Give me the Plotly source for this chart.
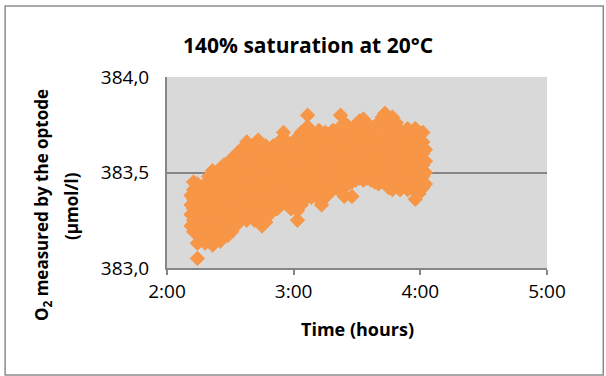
import plotly.graph_objects as go

# Readings grouped by time column (hours) and O2 values (µmol/l)
time_cols = [2.19, 2.21, 2.24, 2.27, 2.30, 2.33, 2.36, 2.39, 2.42, 2.45, 2.48, 2.51, 2.54, 2.57,
             2.60, 2.63, 2.66, 2.69, 2.72, 2.75, 2.78, 2.81, 2.84, 2.87, 2.90, 2.92, 2.95, 2.98,
             3.01, 3.03, 3.06, 3.09, 3.11, 3.14, 3.17, 3.20, 3.22, 3.25, 3.28, 3.31, 3.34, 3.37,
             3.40, 3.43, 3.46, 3.49, 3.52, 3.55, 3.58, 3.61, 3.64, 3.67, 3.70, 3.72, 3.75, 3.78,
             3.81, 3.84, 3.87, 3.90, 3.93, 3.96, 3.99, 4.02, 4.04]

o2_cols = [
    [383.22, 383.28, 383.33, 383.38],
    [383.19, 383.25, 383.31, 383.36, 383.41, 383.45],
    [383.05, 383.13, 383.18, 383.23, 383.29, 383.34, 383.40, 383.44],
    [383.15, 383.20, 383.26, 383.31, 383.37, 383.42],
    [383.13, 383.18, 383.24, 383.29, 383.35, 383.40, 383.44],
    [383.15, 383.21, 383.27, 383.32, 383.38, 383.43, 383.48],
    [383.12, 383.17, 383.23, 383.30, 383.35, 383.41, 383.46, 383.51],
    [383.15, 383.20, 383.26, 383.32, 383.37, 383.43, 383.49],
    [383.14, 383.19, 383.25, 383.31, 383.36, 383.42, 383.47, 383.52],
    [383.18, 383.24, 383.29, 383.35, 383.40, 383.46, 383.51, 383.54],
    [383.17, 383.22, 383.28, 383.33, 383.39, 383.44, 383.50, 383.55],
    [383.19, 383.25, 383.31, 383.36, 383.42, 383.47, 383.53, 383.57],
    [383.22, 383.27, 383.33, 383.38, 383.44, 383.49, 383.55, 383.59],
    [383.24, 383.30, 383.35, 383.41, 383.46, 383.52, 383.57, 383.61],
    [383.26, 383.31, 383.37, 383.42, 383.48, 383.53, 383.59, 383.63],
    [383.25, 383.31, 383.36, 383.42, 383.47, 383.53, 383.58, 383.66],
    [383.27, 383.33, 383.38, 383.44, 383.49, 383.55, 383.60, 383.64],
    [383.25, 383.30, 383.36, 383.41, 383.47, 383.52, 383.58, 383.63],
    [383.27, 383.33, 383.38, 383.44, 383.50, 383.55, 383.61, 383.67],
    [383.22, 383.28, 383.34, 383.40, 383.45, 383.51, 383.57, 383.62],
    [383.24, 383.30, 383.36, 383.42, 383.47, 383.53, 383.58, 383.64],
    [383.28, 383.34, 383.39, 383.45, 383.50, 383.56, 383.61],
    [383.31, 383.36, 383.42, 383.47, 383.53, 383.58, 383.64],
    [383.31, 383.37, 383.43, 383.48, 383.54, 383.60, 383.65],
    [383.33, 383.39, 383.44, 383.50, 383.56, 383.61, 383.67],
    [383.35, 383.41, 383.47, 383.52, 383.58, 383.64, 383.71],
    [383.33, 383.38, 383.44, 383.49, 383.55, 383.60, 383.66],
    [383.31, 383.36, 383.42, 383.48, 383.53, 383.59, 383.65],
    [383.32, 383.38, 383.43, 383.49, 383.55, 383.61, 383.67],
    [383.25, 383.30, 383.36, 383.45, 383.52, 383.58, 383.64],
    [383.33, 383.39, 383.45, 383.51, 383.57, 383.63, 383.71],
    [383.36, 383.42, 383.48, 383.54, 383.60, 383.66, 383.71],
    [383.38, 383.44, 383.50, 383.56, 383.62, 383.68, 383.74, 383.80],
    [383.37, 383.43, 383.49, 383.55, 383.61, 383.67, 383.71],
    [383.39, 383.45, 383.51, 383.57, 383.63, 383.69],
    [383.36, 383.42, 383.48, 383.54, 383.60, 383.66, 383.72],
    [383.33, 383.39, 383.45, 383.51, 383.57, 383.63, 383.69],
    [383.37, 383.43, 383.49, 383.55, 383.61, 383.67, 383.71],
    [383.40, 383.46, 383.52, 383.58, 383.64, 383.70],
    [383.41, 383.47, 383.53, 383.59, 383.65, 383.72],
    [383.42, 383.48, 383.54, 383.60, 383.66, 383.72],
    [383.40, 383.46, 383.52, 383.58, 383.64, 383.70, 383.80],
    [383.375, 383.43, 383.49, 383.55, 383.61, 383.67, 383.76],
    [383.44, 383.50, 383.56, 383.62, 383.68, 383.74],
    [383.375, 383.45, 383.51, 383.57, 383.63, 383.69, 383.72],
    [383.46, 383.52, 383.58, 383.64, 383.70, 383.75],
    [383.47, 383.53, 383.59, 383.65, 383.71, 383.77],
    [383.46, 383.52, 383.58, 383.64, 383.70, 383.78],
    [383.47, 383.53, 383.59, 383.65, 383.71, 383.75],
    [383.46, 383.52, 383.58, 383.64, 383.70, 383.74],
    [383.45, 383.51, 383.57, 383.63, 383.69, 383.74],
    [383.44, 383.50, 383.56, 383.62, 383.68, 383.76],
    [383.46, 383.52, 383.58, 383.64, 383.70, 383.79],
    [383.45, 383.51, 383.57, 383.63, 383.69, 383.75, 383.81],
    [383.42, 383.48, 383.54, 383.60, 383.66, 383.72, 383.78],
    [383.41, 383.47, 383.53, 383.59, 383.65, 383.71, 383.79],
    [383.44, 383.50, 383.56, 383.62, 383.68, 383.76],
    [383.41, 383.47, 383.53, 383.59, 383.65, 383.72],
    [383.43, 383.49, 383.55, 383.61, 383.67, 383.71],
    [383.41, 383.46, 383.52, 383.58, 383.64, 383.70, 383.73],
    [383.42, 383.48, 383.54, 383.60, 383.66, 383.71],
    [383.36, 383.42, 383.48, 383.54, 383.60, 383.66, 383.73],
    [383.39, 383.45, 383.51, 383.57, 383.63, 383.69],
    [383.42, 383.48, 383.54, 383.60, 383.66, 383.71],
    [383.44, 383.50, 383.56, 383.62],
]

x_tick_vals = [2, 3, 4, 5]
x_tick_text = ["2:00", "3:00", "4:00", "5:00"]
y_tick_vals = [383.0, 383.5, 384.0]
y_tick_text = ["383,0", "383,5", "384,0"]

title_text = "140% saturation at 20°C"
x_title = "Time (hours)"
y_title_1 = "O<sub>2</sub> measured by the optode"
y_title_2 = "(µmol/l)"

time_h = []
o2 = []
for t, vals in zip(time_cols, o2_cols):
    for v in vals:
        time_h.append(t)
        o2.append(v)

ORANGE = "#F79646"
GRAY = "#868686"
FONT = "Open Sans"

fig = go.Figure()
fig.add_trace(go.Scatter(
    x=time_h, y=o2, mode="markers",
    marker=dict(symbol="diamond", size=11, color=ORANGE,
                line=dict(color=ORANGE, width=1)),
    showlegend=False, hoverinfo="x+y",
))

fig.update_layout(
    width=606, height=376,
    margin=dict(l=167, r=59, t=77, b=108),
    paper_bgcolor="white", plot_bgcolor="#D9D9D9",
    font=dict(family=FONT, color="black"),
    xaxis=dict(range=[2, 5], tickvals=x_tick_vals, ticktext=x_tick_text,
               showgrid=False, zeroline=False, showline=True, linecolor=GRAY,
               linewidth=2, ticks="outside", ticklen=5, tickcolor=GRAY, tickwidth=2,
               tickfont=dict(size=19, family=FONT, color="black")),
    yaxis=dict(range=[383.0, 384.0], tickvals=y_tick_vals, ticktext=y_tick_text,
               showgrid=True, gridcolor=GRAY, gridwidth=2, zeroline=False,
               showline=True, linecolor=GRAY, linewidth=2, ticks="",
               ticklabelstandoff=12,
               tickfont=dict(size=19, family=FONT, color="black")),
    annotations=[
        dict(text="<b>" + title_text + "</b>", xref="paper", yref="paper",
             x=0.371, y=1.170, xanchor="center", yanchor="middle", showarrow=False,
             font=dict(size=21, family=FONT, color="black")),
        dict(text="<b>" + x_title + "</b>", xref="paper", yref="paper",
             x=0.5, y=-0.317, xanchor="center", yanchor="middle", showarrow=False,
             font=dict(size=18, family=FONT, color="black")),
        dict(text="<b>" + y_title_1 + "</b>", xref="paper", yref="paper",
             x=-0.326, y=0.330, xanchor="center", yanchor="middle", showarrow=False,
             textangle=-90, font=dict(size=17, family=FONT, color="black")),
        dict(text="<b>" + y_title_2 + "</b>", xref="paper", yref="paper",
             x=-0.25, y=0.325, xanchor="center", yanchor="middle", showarrow=False,
             textangle=-90, font=dict(size=17, family=FONT, color="black")),
    ],
    shapes=[
        dict(type="rect", xref="paper", yref="paper", x0=-0.426, x1=1.148,
             y0=-0.560, y1=1.372, line=dict(color="#8C8C8C", width=1.5),
             fillcolor="rgba(0,0,0,0)", layer="below"),
    ],
)

fig.write_html(
    "out.html",
    config={"displayModeBar": False, "staticPlot": True},
    post_script="document.body.style.margin='0';document.body.style.overflow='hidden';",
)
